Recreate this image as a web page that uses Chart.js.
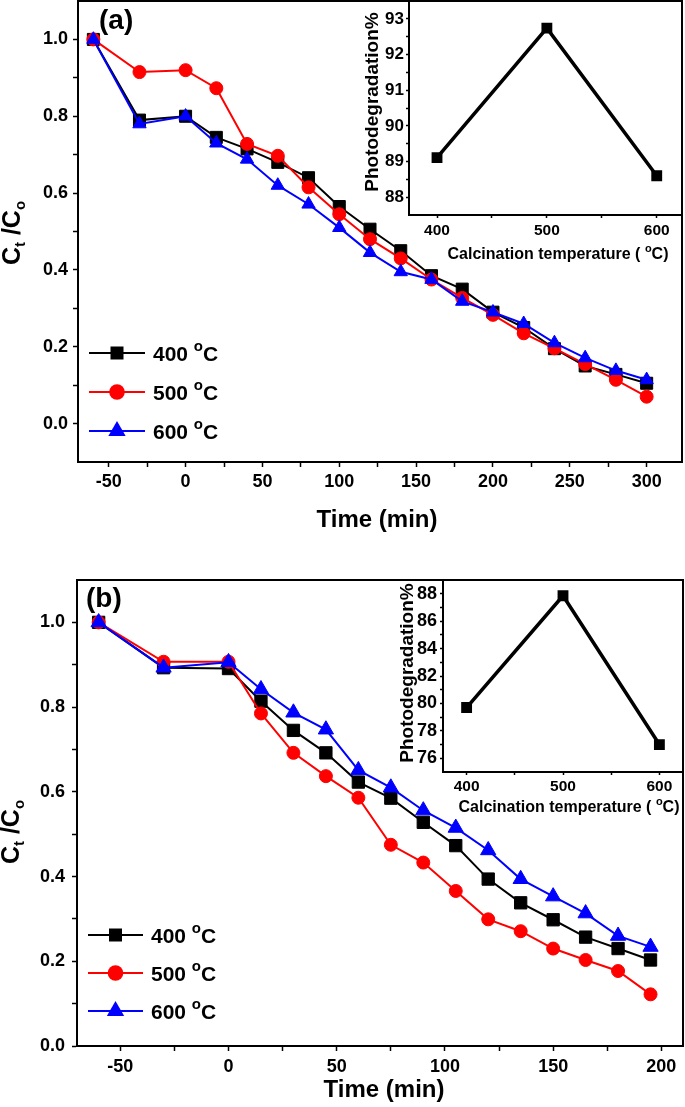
<!DOCTYPE html>
<html>
<head>
<meta charset="utf-8">
<script src="https://cdn.jsdelivr.net/npm/chart.js@4.4.0/dist/chart.umd.min.js"></script>
<style>
  body { margin: 0; background: #fff; }
  #wrap { position: relative; width: 685px; height: 1107px; }
  canvas { position: absolute; }
</style>
</head>
<body>
<div id="wrap">
  <canvas id="mainA" width="685" height="545" style="left:0;top:0"></canvas>
  <canvas id="insetA" width="345" height="270" style="left:340px;top:0"></canvas>
  <canvas id="mainB" width="685" height="547" style="left:0;top:560px"></canvas>
  <canvas id="insetB" width="315" height="245" style="left:370px;top:570px"></canvas>
</div>
<script>
const FONT = '"Liberation Sans", Arial, Helvetica, sans-serif'

// calcination temperatures (legend) and marker look per series
const seriesNames = ["400", "500", "600"]
const colors = ["#000000", "#ff0000", "#0000ff"]
const styles = ["rect", "circle", "triangle"]

// panel (a)
const timeA = [-60, -30, 0, 20, 40, 60, 80, 100, 120, 140, 160, 180, 200, 220, 240, 260, 280, 300]
const c400A = [1.0, 0.79, 0.80, 0.745, 0.715, 0.68, 0.64, 0.565, 0.506, 0.45, 0.385, 0.35, 0.29, 0.25, 0.195, 0.15, 0.128, 0.105]
const c500A = [1.0, 0.915, 0.92, 0.873, 0.728, 0.697, 0.615, 0.545, 0.48, 0.43, 0.375, 0.327, 0.283, 0.235, 0.196, 0.155, 0.114, 0.07]
const c600A = [1.0, 0.78, 0.80, 0.73, 0.688, 0.62, 0.571, 0.51, 0.445, 0.395, 0.375, 0.318, 0.29, 0.26, 0.21, 0.171, 0.138, 0.114]

// panel (b)
const timeB = [-60, -30, 0, 15, 30, 45, 60, 75, 90, 105, 120, 135, 150, 165, 180, 195]
const c400B = [1.0, 0.893, 0.891, 0.814, 0.745, 0.692, 0.623, 0.585, 0.528, 0.473, 0.394, 0.338, 0.298, 0.257, 0.23, 0.203]
const c500B = [1.0, 0.907, 0.907, 0.785, 0.692, 0.637, 0.586, 0.475, 0.433, 0.366, 0.299, 0.271, 0.23, 0.203, 0.177, 0.122]
const c600B = [1.0, 0.893, 0.906, 0.842, 0.787, 0.747, 0.651, 0.61, 0.556, 0.515, 0.462, 0.394, 0.353, 0.313, 0.26, 0.234]

// insets: photodegradation vs calcination temperature
const calcTemp = [400, 500, 600]
const degA = [89.11, 92.74, 88.6]
const degB = [79.7, 87.85, 77.0]

function points(xs, ys) {
  return xs.map((x, i) => ({ x, y: ys[i] }))
}

function rich(ctx, parts, x, y, align) {
  let w = 0
  parts.forEach(p => {
    ctx.font = `bold ${p[1]}px ${FONT}`
    w += ctx.measureText(p[0]).width
  })
  let cx = align === "left" ? x : x - w / 2
  parts.forEach(p => {
    ctx.font = `bold ${p[1]}px ${FONT}`
    ctx.fillText(p[0], cx, y + (p[2] || 0))
    cx += ctx.measureText(p[0]).width
  })
}

function marker(ctx, style, x, y, color) {
  ctx.fillStyle = color
  ctx.beginPath()
  if (style === "rect") {
    ctx.rect(x - 6.5, y - 6.5, 13, 13)
  } else if (style === "circle") {
    ctx.arc(x, y, 7.8, 0, Math.PI * 2)
  } else {
    const r = 10
    ctx.moveTo(x, y - r)
    ctx.lineTo(x + r * 0.866, y + r / 2)
    ctx.lineTo(x - r * 0.866, y + r / 2)
    ctx.closePath()
  }
  ctx.fill()
}

function drawLegend(ctx, lg) {
  seriesNames.forEach((name, i) => {
    const y = lg.y + i * lg.gap
    ctx.strokeStyle = colors[i]
    ctx.lineWidth = 2
    ctx.beginPath()
    ctx.moveTo(lg.x1, y)
    ctx.lineTo(lg.x2, y)
    ctx.stroke()
    marker(ctx, styles[i], (lg.x1 + lg.x2) / 2, y, colors[i])
    ctx.fillStyle = "#000"
    rich(ctx, [[name + " ", 21], ["o", 15, -10], ["C", 21]], lg.tx, y + 7.5, "left")
  })
}

// frame, titles, panel tag and legend, given in page coordinates
function decor(cfg) {
  return {
    id: "decor",
    afterDraw(chart) {
      const { ctx, chartArea: a } = chart
      ctx.save()
      ctx.strokeStyle = "#000"
      ctx.lineWidth = 2
      ctx.strokeRect(a.left, a.top, a.right - a.left, a.bottom - a.top)
      ctx.translate(-cfg.ox, -cfg.oy)
      ctx.fillStyle = "#000"
      ctx.textAlign = "left"
      ctx.textBaseline = "alphabetic"
      if (cfg.yTitle) {
        ctx.save()
        ctx.translate(cfg.yTitle.x, cfg.yTitle.y)
        ctx.rotate(-Math.PI / 2)
        rich(ctx, cfg.yTitle.parts, 0, 0)
        ctx.restore()
      }
      if (cfg.xTitle) rich(ctx, cfg.xTitle.parts, cfg.xTitle.x, cfg.xTitle.y)
      if (cfg.tag) rich(ctx, [[cfg.tag.text, 28]], cfg.tag.x, cfg.tag.y, "left")
      if (cfg.legend) drawLegend(ctx, cfg.legend)
      ctx.restore()
    }
  }
}

function tickFont(size) {
  return { family: FONT, size, weight: "bold" }
}

// regular ticks every `step` between the axis limits
function stepTicks(step) {
  return s => {
    const out = []
    for (let k = Math.ceil(s.min / step - 1e-9); k * step <= s.max + 1e-9; k++) {
      out.push({ value: Math.round(k * step * 1e6) / 1e6 })
    }
    s.ticks = out
  }
}

function xAxis(o) {
  return {
    type: "linear",
    min: o.min,
    max: o.max,
    afterBuildTicks: stepTicks(o.step),
    ticks: {
      autoSkip: false,
      maxRotation: 0,
      padding: o.pad,
      color: "#000",
      font: tickFont(o.size),
      callback: v => (Math.abs(v % o.major) < 1e-6 ? String(v) : "")
    },
    grid: { drawOnChartArea: false, tickLength: o.tick, tickWidth: 1.5, tickColor: "#000" },
    border: { display: true, color: "#000", width: 2 },
    afterFit(s) {
      s.height = o.height
      s.paddingLeft = 0
      s.paddingRight = 0
    }
  }
}

function yAxis(o) {
  return {
    type: "linear",
    min: o.min,
    max: o.max,
    afterBuildTicks: stepTicks(o.step),
    ticks: {
      autoSkip: false,
      padding: o.pad,
      color: "#000",
      font: tickFont(o.size),
      callback: o.label
    },
    grid: {
      drawOnChartArea: false,
      tickLength: o.tick,
      tickWidth: 1.5,
      tickColor: c => (c.tick && o.hide(c.tick.value) ? "rgba(0,0,0,0)" : "#000")
    },
    border: { display: true, color: "#000", width: 2 },
    afterFit(s) {
      s.width = o.width
      s.paddingTop = 0
      s.paddingBottom = 0
    }
  }
}

function kineticSets(xs, ys, radii) {
  return ys.map((vals, i) => ({
    label: seriesNames[i] + " °C",
    data: points(xs, vals),
    borderColor: colors[i],
    backgroundColor: colors[i],
    pointBackgroundColor: colors[i],
    pointBorderColor: colors[i],
    borderWidth: 2,
    pointBorderWidth: 1,
    pointStyle: styles[i],
    pointRadius: radii[i],
    order: 3 - i
  }))
}

const baseOptions = {
  responsive: false,
  animation: false,
  events: [],
  plugins: { legend: { display: false }, tooltip: { enabled: false } }
}

function layout(top, right) {
  return { autoPadding: false, padding: { left: 0, top, right, bottom: 0 } }
}

const ctLabel = v => {
  const k = Math.round(v * 10)
  return k % 2 === 0 && k >= 0 && k <= 10 ? (k / 10).toFixed(1) : ""
}

const ctTitle = [["C", 25], ["t", 15, 5], [" /", 25], ["C", 25], ["o", 15, 5]]
const timeTitle = [["Time (min)", 24]]
const calcTitle = [["Calcination temperature ( ", 16], ["o", 11, -7], ["C)", 16]]
const degTitle = [["Photodegradation%", 19]]

new Chart(document.getElementById("mainA"), {
  type: "line",
  data: { datasets: kineticSets(timeA, [c400A, c500A, c600A], [8.5, 6.5, 7.7]) },
  options: {
    ...baseOptions,
    layout: layout(1, 3),
    scales: {
      x: xAxis({ min: -70, max: 323, step: 25, major: 50, pad: 4, size: 18, tick: 5, height: 83 }),
      y: yAxis({ min: -0.1, max: 1.1, step: 0.1, pad: 5, size: 18, tick: 5, width: 78, label: ctLabel,
        hide: v => v < -0.05 || v > 1.05 })
    }
  },
  plugins: [decor({
    ox: 0, oy: 0,
    yTitle: { x: 20, y: 233, parts: ctTitle },
    xTitle: { x: 377, y: 527, parts: timeTitle },
    tag: { text: "(a)", x: 99, y: 29 },
    legend: { x1: 89, x2: 145, tx: 153, y: 353, gap: 39 }
  })]
})

new Chart(document.getElementById("insetA"), {
  type: "line",
  data: {
    datasets: [{
      data: points(calcTemp, degA),
      borderColor: "#000", backgroundColor: "#000",
      borderWidth: 3.5, pointStyle: "rect", pointRadius: 5.2
    }]
  },
  options: {
    ...baseOptions,
    layout: layout(1, 3),
    scales: {
      x: xAxis({ min: 374.5, max: 623, step: 50, major: 100, pad: 3, size: 15.5, tick: 3, height: 55 }),
      y: yAxis({ min: 87.5, max: 93.5, step: 0.5, pad: 2, size: 17, tick: 3, width: 69,
        label: v => (Number.isInteger(v) ? String(v) : ""),
        hide: v => v < 87.6 || v > 93.4 })
    }
  },
  plugins: [decor({
    ox: 340, oy: 0,
    yTitle: { x: 378, y: 102, parts: degTitle },
    xTitle: { x: 558, y: 259, parts: calcTitle }
  })]
})

new Chart(document.getElementById("mainB"), {
  type: "line",
  data: { datasets: kineticSets(timeB, [c400B, c500B, c600B], [8.7, 6.5, 8.8]) },
  options: {
    ...baseOptions,
    layout: layout(20, 2),
    scales: {
      x: xAxis({ min: -70, max: 210, step: 25, major: 50, pad: 5, size: 18, tick: 5, height: 61 }),
      y: yAxis({ min: 0, max: 1.1, step: 0.1, pad: 7, size: 18, tick: 5, width: 77, label: ctLabel,
        hide: v => v > 1.05 })
    }
  },
  plugins: [decor({
    ox: 0, oy: 560,
    yTitle: { x: 19, y: 832, parts: ctTitle },
    xTitle: { x: 384, y: 1097, parts: timeTitle },
    tag: { text: "(b)", x: 86, y: 607 },
    legend: { x1: 88, x2: 143, tx: 151, y: 935, gap: 38 }
  })]
})

new Chart(document.getElementById("insetB"), {
  type: "line",
  data: {
    datasets: [{
      data: points(calcTemp, degB),
      borderColor: "#000", backgroundColor: "#000",
      borderWidth: 3.5, pointStyle: "rect", pointRadius: 5.2
    }]
  },
  options: {
    ...baseOptions,
    layout: layout(10, 2),
    scales: {
      x: xAxis({ min: 375.5, max: 624.5, step: 50, major: 100, pad: 2, size: 15.5, tick: 3, height: 43 }),
      y: yAxis({ min: 75, max: 89, step: 1, pad: 3, size: 18, tick: 3, width: 73,
        label: v => (v % 2 === 0 ? String(v) : ""),
        hide: v => v < 75.5 || v > 88.5 })
    }
  },
  plugins: [decor({
    ox: 370, oy: 570,
    yTitle: { x: 413, y: 673, parts: degTitle },
    xTitle: { x: 569, y: 812, parts: calcTitle }
  })]
})
</script>
</body>
</html>
